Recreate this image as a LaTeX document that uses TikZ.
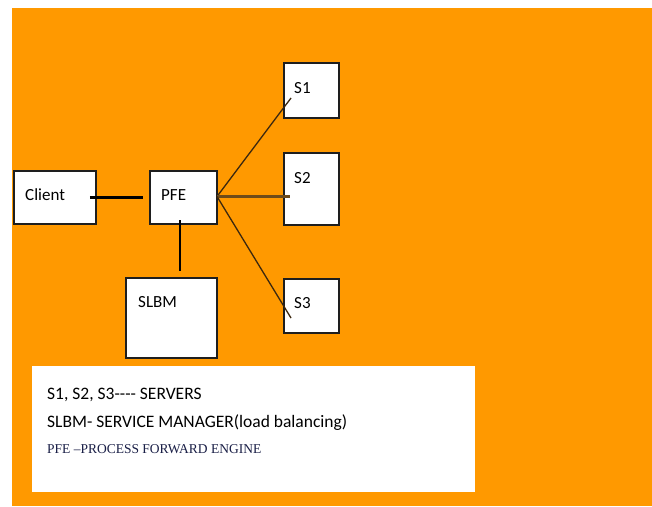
\documentclass[tikz,border=0pt]{standalone}
\usetikzlibrary{calc}
\usepackage{fontspec}
\setmainfont{Carlito}
\newfontfamily\legserif{Liberation Serif}
\definecolor{bgorange}{RGB}{255,153,0}
\definecolor{boxline}{RGB}{30,30,30}
\definecolor{thinline}{RGB}{60,40,15}
\definecolor{brownline}{RGB}{110,75,25}
\definecolor{legblue}{RGB}{25,30,70}
\begin{document}
\begin{tikzpicture}[x=1pt,y=-1pt,
  box/.style={draw=boxline,line width=1.8pt,fill=white,anchor=north west,inner sep=0pt},
  lbl/.style={anchor=west,inner sep=0pt,font=\fontsize{17}{20}\selectfont,text=black},
  legtxt/.style={anchor=west,inner sep=0pt,font=\fontsize{17.5}{20}\selectfont,text=black}]
\useasboundingbox (0,0) rectangle (652,506);
\fill[white] (0,0) rectangle (652,506);
\fill[bgorange] (12,8) rectangle (652,506);
% boxes
\node[box,minimum width=82pt,minimum height=53pt] (client) at (13,170) {};
\node[box,minimum width=67pt,minimum height=53pt] (pfe) at (149,170) {};
\node[box,minimum width=91pt,minimum height=80pt] (slbm) at (125,277) {};
\node[box,minimum width=55pt,minimum height=55pt] (s1) at (283,62) {};
\node[box,minimum width=55pt,minimum height=72pt] (s2) at (283,152) {};
\node[box,minimum width=55pt,minimum height=54pt] (s3) at (283,278) {};
% labels
\node[lbl] (clientl) at (25,195) {Client};
\node[lbl] (pfel) at (161,195) {PFE};
\node[lbl] (slbml) at (138,302) {SLBM};
\node[lbl] (s1l) at (294,88) {S1};
\node[lbl] (s2l) at (294,178) {S2};
\node[lbl] (s3l) at (294,303) {S3};
% connector end points
\coordinate (cliend) at ($(client.east)+(-7,0)$);
\coordinate (pfein) at ($(pfe.west)+(-6,0)$);
\coordinate (pfebot) at (180,220);
\coordinate (slbmtop) at (180,271);
\coordinate (s1end) at (291,98);
\coordinate (s2end) at (290,196.5);
\coordinate (s3end) at (291,318);
\coordinate (pferight) at (217,196.5);
% connectors
\draw[line width=3.8pt,black] (cliend) -- (pfein);
\draw[line width=1.3pt,black] (pfebot) -- (slbmtop);
\draw[line width=1.3pt,thinline] (pferight) -- (s1end);
\draw[line width=3pt,brownline] (pferight) -- (s2end);
\draw[line width=1.3pt,thinline] (pferight) -- (s3end);
% legend
\node[fill=white,anchor=north west,minimum width=443pt,minimum height=126pt,inner sep=0pt] (legend) at (32,366) {};
\node[legtxt] (leg1) at (47,395) {S1, S2, S3{-}{-}{-}{-} SERVERS};
\node[legtxt] (leg2) at (47,423) {SLBM- SERVICE MANAGER(load balancing)};
\node[anchor=west,inner sep=0pt,font=\legserif\fontsize{13.5}{15}\selectfont,text=legblue] (leg3) at (47,449) {PFE –PROCESS FORWARD ENGINE};
\end{tikzpicture}
\end{document}
